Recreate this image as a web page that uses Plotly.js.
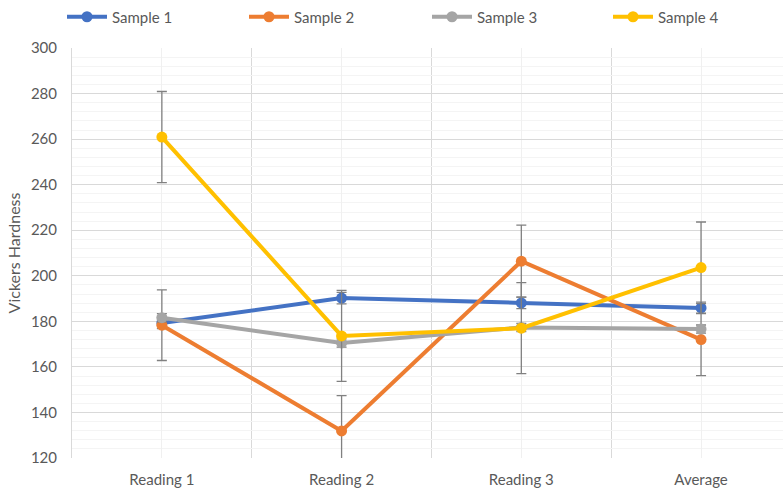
<!DOCTYPE html>
<html>
<head>
<meta charset="utf-8">
<script src="https://cdn.plot.ly/plotly-3.0.1.min.js"></script>
<style>html,body{margin:0;padding:0;background:#fff;}#chart{width:783px;height:493px;}</style>
</head>
<body>
<div id="chart"></div>
<script>
const categories = ["Reading 1", "Reading 2", "Reading 3", "Average"];
const seriesNames = ["Sample 1", "Sample 2", "Sample 3", "Sample 4"];
const sample1 = [179.3, 190.2, 188.1, 185.9];
const sample2 = [178.3, 131.9, 206.4, 172.0];
const sample3 = [181.6, 170.5, 177.3, 176.6];
const sample4 = [260.9, 173.6, 177.0, 203.6];
const err1 = [2.5, 2.5, 2.5, 2.5];
const err2 = [15.5, 15.5, 15.8, 15.8];
const err3 = [1.8, 1.8, 1.8, 1.8];
const err4 = [20, 20, 20, 20];
const colors = ["#4472C4", "#ED7D31", "#A5A5A5", "#FFC000"];
const fontFam = "Lato, 'Noto Sans', sans-serif";
const tickFont = {family: fontFam, size: 15, color: "#595959"};

const xIdx = categories.map((c, i) => i);
const values = [sample1, sample2, sample3, sample4];
const errs = [err1, err2, err3, err4];
const legendIds = ["legend", "legend2", "legend3", "legend4"];
const legendLeft = [62, 244, 427, 608];

const traces = values.map((v, k) => ({
  type: "scatter",
  mode: "lines+markers",
  name: seriesNames[k],
  legend: legendIds[k],
  x: xIdx,
  y: v,
  line: {color: colors[k], width: 4},
  marker: {color: colors[k], size: 11},
  error_y: {type: "data", array: errs[k], visible: true, color: "#808080", thickness: 1.3, width: 5}
}));

const layout = {
  width: 783, height: 493,
  margin: {l: 72, r: 0, t: 48, b: 35},
  paper_bgcolor: "#fff", plot_bgcolor: "#fff",
  showlegend: true,
  xaxis: {
    type: "linear",
    range: [-0.5, 3.456],
    tickvals: xIdx, ticktext: categories,
    showgrid: true, gridcolor: "#F0F0F0", gridwidth: 1,
    minor: {tick0: 0.5, dtick: 1, showgrid: true, gridcolor: "#D9D9D9", gridwidth: 1},
    zeroline: false, showline: false, ticks: "",
    tickfont: tickFont, ticklabelstandoff: 11
  },
  yaxis: {
    range: [120, 300], dtick: 20, tick0: 120,
    showgrid: true, gridcolor: "#D9D9D9", gridwidth: 1,
    minor: {dtick: 4, showgrid: true, gridcolor: "#F4F4F4", gridwidth: 1},
    zeroline: false, showline: true, linecolor: "#D9D9D9", ticks: "",
    tickfont: tickFont, ticklabelstandoff: 11,
    title: {text: "Vickers Hardness", font: {family: fontFam, size: 16, color: "#595959"}, standoff: 6}
  }
};
legendIds.forEach((id, k) => {
  layout[id] = {
    orientation: "h", xref: "container", yref: "container",
    x: legendLeft[k] / 783, y: 0.999, xanchor: "left", yanchor: "top",
    font: {family: fontFam, size: 15, color: "#595959"},
    itemwidth: 40, bgcolor: "rgba(0,0,0,0)"
  };
});

Plotly.newPlot("chart", traces, layout, {displayModeBar: false, staticPlot: true});
</script>
</body>
</html>
